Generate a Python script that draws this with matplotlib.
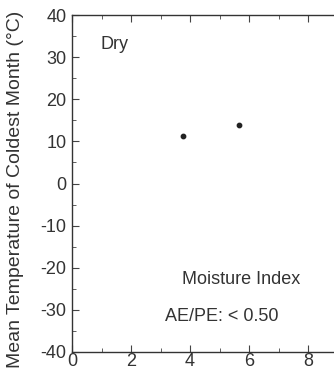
import matplotlib
matplotlib.use("Agg")
import matplotlib.pyplot as plt
from matplotlib.ticker import MultipleLocator

plt.rcParams['font.family'] = ['Liberation Sans', 'DejaVu Sans']
plt.rcParams['axes.unicode_minus'] = False

moisture_x = [3.75, 5.65]
coldest_temp = [11.2, 14.0]
x_ticks = [0, 2, 4, 6, 8]
y_ticks = [-40, -30, -20, -10, 0, 10, 20, 30, 40]

W, H = 334, 377
fig = plt.figure(figsize=(W / 100, H / 100), dpi=100)
left, right_px = 72, 72 + 295
top, bottom = 15, 352
ax = fig.add_axes([left / W, 1 - bottom / H, (right_px - left) / W, (bottom - top) / H])

ax.scatter(moisture_x, coldest_temp, s=10, color='#222222', zorder=3)
ax.set_xlim(0, 10)
ax.set_ylim(-40, 40)
ax.set_xticks(x_ticks)
ax.set_yticks(y_ticks)
ax.xaxis.set_minor_locator(MultipleLocator(1))
ax.yaxis.set_minor_locator(MultipleLocator(5))
ax.tick_params(which='both', direction='in', top=True, right=False, color='#444444',
               labelsize=13, labelcolor='#333333')
ax.tick_params(which='major', length=5)
ax.tick_params(which='minor', length=3)
ax.tick_params(axis='x', pad=1)
ax.tick_params(axis='y', pad=4)
for s in ax.spines.values():
    s.set_color('#333333')
    s.set_linewidth(1.0)

fig.text(16 / W, 1 - 189 / H, 'Mean Temperature of Coldest Month (°C)', fontsize=14,
         color='#333333', rotation=90, ha='center', va='center')
ax.text(0.95, 33.1, 'Dry', fontsize=13, color='#333333', va='center', ha='left')
ax.text(3.73, -22.9, 'Moisture Index', fontsize=13, color='#333333', va='center', ha='left')
ax.text(3.15, -31.5, 'AE/PE: < 0.50', fontsize=13, color='#333333', va='center', ha='left')

fig.savefig('out.png', dpi=100)
